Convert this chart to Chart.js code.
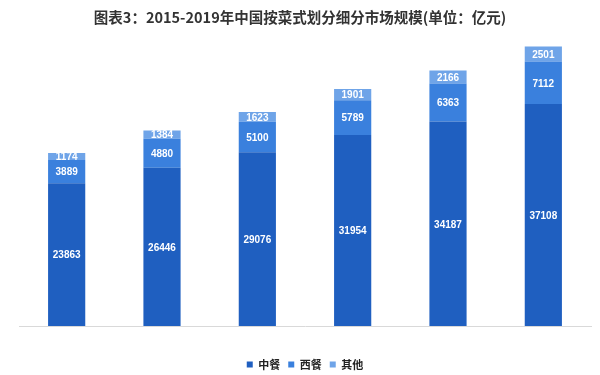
<!DOCTYPE html>
<html>
<head>
<meta charset="utf-8">
<script src="https://cdn.jsdelivr.net/npm/chart.js@4.4.0/dist/chart.umd.min.js"></script>
<style>
  html, body { margin: 0; padding: 0; background: #fff; }
  #wrap { width: 600px; height: 375px; }
</style>
</head>
<body>
<div id="wrap"><canvas id="grafico"></canvas></div>
<script>
// dados
const anos = ['2014', '2015', '2016', '2017', '2018', '2019'];
const zhongcan = [23863, 26446, 29076, 31954, 34187, 37108];
const xican = [3889, 4880, 5100, 5789, 6363, 7112];
const qita = [1174, 1384, 1623, 1901, 2166, 2501];

const titulo = '图表3：2015-2019年中国按菜式划分细分市场规模(单位：亿元)';
const fonteCJK = '"Noto Sans CJK SC", "Noto Sans", sans-serif';
const fonteNum = '"Liberation Sans", "DejaVu Sans", sans-serif';

// escreve os valores no meio de cada segmento
const rotulos = {
  id: 'rotulos',
  afterDatasetsDraw(chart) {
    const ctx = chart.ctx;
    ctx.save();
    ctx.fillStyle = '#ffffff';
    ctx.font = 'bold 10px ' + fonteNum;
    ctx.textAlign = 'center';
    ctx.textBaseline = 'middle';
    chart.data.datasets.forEach((ds, i) => {
      const meta = chart.getDatasetMeta(i);
      meta.data.forEach((bar, j) => {
        const meio = (bar.y + bar.base) / 2;
        ctx.fillText(ds.data[j], bar.x, meio + 1);
      });
    });
    ctx.restore();
  }
};

// titulo desenhado a mao
const cabecalho = {
  id: 'cabecalho',
  afterDraw(chart) {
    const ctx = chart.ctx;
    ctx.save();
    ctx.fillStyle = '#333333';
    ctx.font = 'bold 14.5px ' + fonteCJK;
    ctx.textAlign = 'center';
    ctx.textBaseline = 'middle';
    ctx.fillText(titulo, 300, 17);
    ctx.restore();
  }
};

const ctx = document.getElementById('grafico').getContext('2d');

new Chart(ctx, {
  type: 'bar',
  data: {
    labels: anos,
    datasets: [
      { label: '中餐', data: zhongcan, backgroundColor: '#1f5fc0' },
      { label: '西餐', data: xican, backgroundColor: '#3a80dd' },
      { label: '其他', data: qita, backgroundColor: '#6fa4e8' }
    ]
  },
  options: {
    responsive: true,
    maintainAspectRatio: false,
    animation: false,
    layout: { padding: { left: 19, right: 9, top: 27, bottom: -5 } },
    datasets: {
      bar: { categoryPercentage: 1, barPercentage: 0.39 }
    },
    scales: {
      x: {
        stacked: true,
        grid: { display: false },
        border: { color: '#d9d9d9', width: 1 },
        ticks: { display: false },
        afterFit(scale) { scale.height += 17; }
      },
      y: {
        stacked: true,
        display: false,
        min: 0,
        max: 50000
      }
    },
    plugins: {
      legend: {
        position: 'bottom',
        labels: {
          boxWidth: 6,
          boxHeight: 6,
          padding: 8,
          color: '#222222',
          font: { size: 11, weight: 'bold', family: fonteCJK }
        }
      },
      tooltip: { enabled: false }
    }
  },
  plugins: [rotulos, cabecalho]
});
</script>
</body>
</html>
